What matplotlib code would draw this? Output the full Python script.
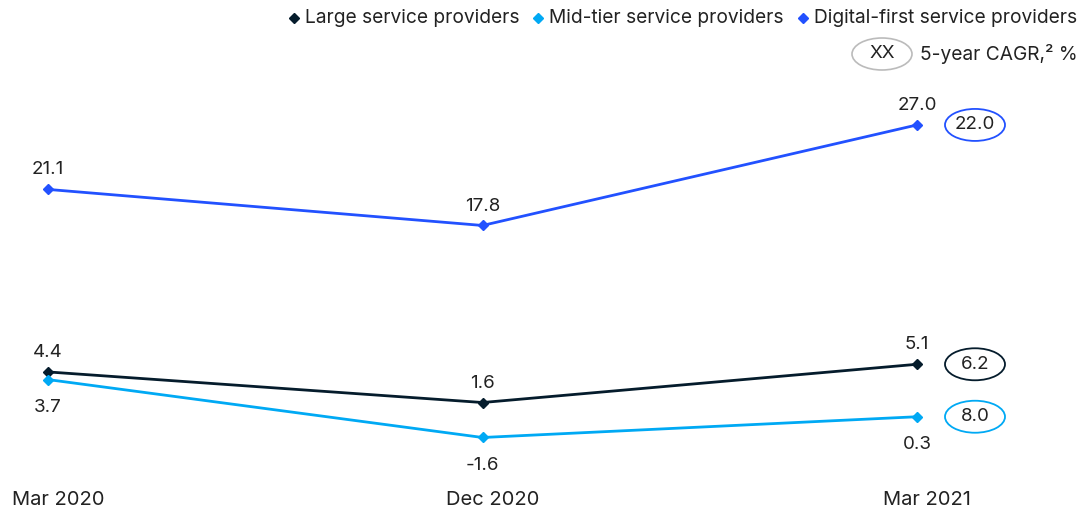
import matplotlib.pyplot as plt
from matplotlib.patches import Ellipse
from matplotlib.transforms import offset_copy

plt.rcParams['font.family'] = ['Inter', 'DejaVu Sans']

periods = ["Mar 2020", "Dec 2020", "Mar 2021"]
large = [4.4, 1.6, 5.1]
midtier = [3.7, -1.6, 0.3]
digital = [21.1, 17.8, 27.0]
cagr_large = 6.2
cagr_mid = 8.0
cagr_digital = 22.0

names = ["Large service providers", "Mid-tier service providers",
         "Digital-first service providers"]
colors = ["#051c2c", "#00a9f4", "#2251ff"]
# label above (+1) or below (-1) each point
label_side = [[1, 1, 1], [-1, -1, -1], [1, 1, 1]]
series = [large, midtier, digital]
cagrs = [cagr_large, cagr_mid, cagr_digital]

W, H = 1091, 511
txt = "#222222"
fig = plt.figure(figsize=(W / 100, H / 100), dpi=100)
y0, y1 = -3.0, 28.0
ax = fig.add_axes([48 / W, 1 - 452.8 / H, (917 - 48) / W, (452.8 - 114) / H])
ax.set_xlim(0, 2)
ax.set_ylim(y0, y1)
ax.axis("off")

x = list(range(len(periods)))
for vals, col, side in zip(series, colors, label_side):
    ax.plot(x, vals, color=col, lw=2, marker="D", ms=5, clip_on=False, zorder=3)
    for xi, v, s in zip(x, vals, side):
        off = 14 if s > 0 else -20
        tr = offset_copy(ax.transData, fig=fig, x=0, y=off, units="points")
        ax.text(xi, v, f"{v:.1f}", transform=tr, ha="center", va="center",
                fontsize=13.5, color=txt)

# CAGR ellipses to the right of the last point
for vals, col, c in zip(series, colors, cagrs):
    cx, cy = ax.transData.transform((2, vals[-1]))
    cx = (cx + 58) / W
    cy = cy / H
    fig.add_artist(Ellipse((cx, cy), 60 / W, 32 / H, fill=False,
                           edgecolor=col, lw=1.3))
    fig.text(cx, cy, f"{c:.1f}", ha="center", va="center",
             fontsize=13.5, color=txt)

# period labels along the bottom
for xi, p in zip(x, periods):
    px = ax.transData.transform((xi, 0))[0] + 10
    fig.text(px / W, 1 - 500 / H, p, ha="center", va="center",
             fontsize=14.5, color=txt)

# legend row
leg_x = [294, 538, 803]
for lx, col, name in zip(leg_x, colors, names):
    fig.add_artist(plt.Line2D([lx / W], [1 - 18 / H], marker="D", ms=5,
                              color=col, lw=0))
    fig.text((lx + 11) / W, 1 - 18 / H, name, ha="left", va="center",
             fontsize=13.8, color=txt)

fig.add_artist(Ellipse((882 / W, 1 - 54 / H), 60 / W, 32 / H, fill=False,
                       edgecolor="#bbbbbb", lw=1.2))
fig.text(882 / W, 1 - 54 / H, "XX", ha="center", va="center", fontsize=13.5,
         color=txt)
fig.text(920 / W, 1 - 54 / H, "5-year CAGR,² %", ha="left", va="center",
         fontsize=13.8, color=txt)

fig.savefig("out.png", dpi=100)
